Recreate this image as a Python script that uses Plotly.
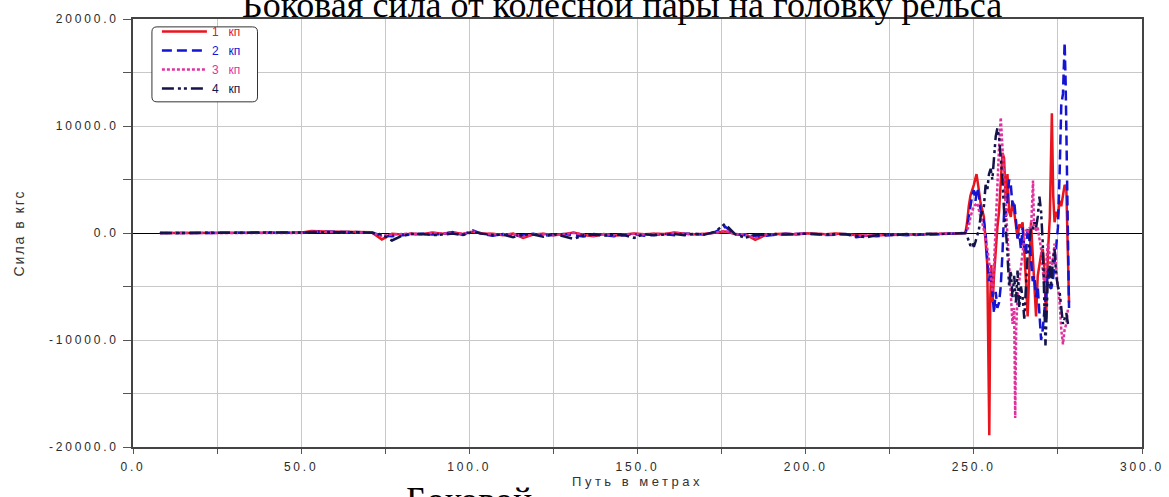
import plotly.graph_objects as go

# ---- data -------------------------------------------------------------
# quiet stretch of track: common sampling positions, m
QUIET_X = list(range(8, 246, 3))

# lateral force on the rail head, kgf (wheelsets 1..4), quiet stretch
Q1 = [0, 0, 0, 0, 0, 0, 0, 0, 0, 0, 0, 0, 0, 0, 20, 180, 120, 110, 120, 100,
      90, 60, -600, -80, -150, -60, -120, 40, -80, 60, -100, 120, -50, -80, -200, -60,
      -450, -150, -80, -200, -120, 50, -180, -300, -100, -250, -150, -50, -120, -60,
      -100, 50, -80, -120, -60, 40, 150, -100, -120, -650, -200, -100, -60, -150, -30,
      -80, -120, -50, -100, -220, -260, -200, -180, -200, -150, -180, -120, -80, -60, -40]
Q2 = [0, 0, 0, 0, 0, 0, 0, 0, 0, 0, 0, 0, 0, 0, 30, 100, 130, 120, 100, 110,
      80, 50, -250, -300, -200, -120, -60, -150, -100, 80, -180, 250, -120, -250, -100,
      -300, -200, -80, -250, -150, -100, -200, -320, -100, -200, -300, -200, -100, -250,
      -150, -80, -200, -60, -100, -150, 80, 600, -120, -200, -300, -250, -150, -80, -100,
      -60, -120, -180, -150, -100, -400, -250, -300, -250, -150, -200, -150, -100, -120, -80, -50]
Q3 = [0, 0, 0, 0, 0, 0, 0, 0, 0, 0, 0, 0, 0, 0, 10, 120, 100, 90, 100, 80,
      70, 40, -300, -150, -100, -50, -150, 20, -60, 40, -80, 150, -60, -100, -150, -80,
      -350, -120, -100, -180, -150, 30, -150, -250, -120, -200, -180, -60, -150, -80,
      -120, 20, -100, -150, -80, 20, 200, -80, -150, -500, -150, -120, -80, -120, -50,
      -100, -100, -80, -120, -250, -220, -180, -200, -180, -120, -150, -100, -60, -40, -20]
Q4 = [0, 0, 0, 0, 0, 0, 0, 0, 0, 0, 0, 0, 0, 0, 0, 60, 80, 100, 90, 80,
      60, 30, -150, -700, -250, -80, -100, -200, -150, -50, -200, 100, -80, -200, -150,
      -400, -150, -150, -350, -100, -300, -550, -200, -150, -250, -150, -200, -450, -100,
      -200, -150, -100, -200, -80, -150, 100, 850, -100, -450, -150, -200, -100, -150, -80,
      -60, -100, -150, -80, -120, -250, -400, -200, -150, -200, -100, -150, -80, -100, -60, -30]

# turnout zone: each wheelset sampled on its own positions
T1_X = [247.5, 248, 248.5, 249, 250, 250.8, 251.5, 252, 253, 253.5, 254, 254.6, 254.9,
        255.2, 255.6, 256, 256.5, 257, 257.5, 258, 258.5, 259, 259.5, 260, 260.5, 261,
        261.5, 262, 262.5, 263, 263.5, 264, 264.5, 265, 265.5, 266, 266.5, 267, 267.5,
        268, 268.5, 269, 270, 270.5, 271, 271.5, 272, 272.6, 273.2, 273.6, 274, 274.5,
        275, 275.5, 276, 276.5, 277, 277.5, 278, 278.3]
T1_Y = [0, 1000, 2500, 3500, 4500, 5500, 4000, 2800, 1500, -500, -3000, -18900, -6000,
        -3000, -6500, -4000, -1500, 500, 2000, 4500, 7500, 7000, 3000, 5500, 2000, 1500,
        3000, 2000, 500, -500, 800, 500, 1000, -1500, -4500, -7800, -3000, 1000, -2000,
        -5500, -7800, -4000, -2000, -1500, -3500, -8000, -2000, 1500, 11200, 3500, 1000,
        2000, 1500, 3000, 2500, 3500, 4500, 4200, -5000, -6500]

T2_X = [247.5, 248, 248.5, 249, 249.5, 250, 250.5, 251, 251.5, 252, 252.5, 253, 253.5,
        254, 254.5, 255, 255.5, 256, 256.5, 257, 257.5, 258, 258.5, 259, 259.5, 260,
        260.5, 261, 261.5, 262, 262.5, 263, 263.5, 264, 264.5, 265, 265.5, 266, 266.5,
        267, 267.5, 268, 268.5, 269, 269.5, 270, 270.5, 271, 271.5, 272, 272.5, 273,
        273.5, 274, 274.5, 275, 275.5, 276, 276.5, 277, 277.3, 277.6, 278, 278.3]
T2_Y = [0, 500, 1500, 2500, 3500, 4000, 3000, 4200, 3500, 2000, 1800, 1000, 0, -2500,
        -4500, -3500, -6000, -7500, -5500, -7000, -6500, -5000, -2000, 2000, 1500, 3500,
        5000, 4500, 2500, 3000, 1000, -500, 0, -1500, 500, -1500, -2000, 500, -500, -2500,
        -4500, -4000, -6000, -5000, -8000, -10000, -9000, -7000, -5000, -3500, -5000,
        -5200, -4500, -3000, -1000, 500, 5500, 12000, 13000, 17800, 14000, 7000, -2000, -7000]

T3_X = [247.5, 248, 248.5, 249, 250, 251, 251.5, 252, 252.5, 253, 253.5, 254, 254.5,
        255, 255.5, 256, 256.5, 257, 257.5, 258, 258.5, 259, 259.5, 260, 260.5, 261,
        261.5, 262, 262.3, 262.6, 263, 263.5, 264, 264.5, 265, 265.5, 266, 266.5, 267,
        267.6, 267.9, 268.5, 269, 269.5, 270, 270.5, 271, 271.5, 272, 272.5, 273, 273.5,
        274, 274.5, 275, 275.5, 276, 276.5, 277, 277.5, 278]
T3_Y = [0, 300, 600, 1500, 2500, 2800, 2000, 1500, 1000, 300, -500, -1500, -2500, -4000,
        -5500, -3000, 1000, 5000, 8000, 10800, 8000, 5200, 2500, 0, -3000, -6000, -8500,
        -7000, -17300, -8800, -6000, -4500, -3000, -1500, -500, 300, 0, 500, 300, 4900,
        500, 300, 500, -500, -1500, -3500, -5000, -3000, -1000, -2000, -4000, -2500,
        -1000, -3500, -5000, -6500, -9000, -10400, -9000, -8500, -7000]

T4_X = [247.5, 248, 248.5, 249, 249.5, 250, 250.5, 251, 251.5, 252, 252.5, 253, 253.5,
        254, 254.5, 255, 255.5, 256, 256.5, 257, 257.5, 258, 258.5, 259, 259.5, 260,
        260.5, 261, 261.5, 262, 262.5, 263, 263.5, 264, 264.5, 265, 265.5, 266, 266.5,
        267, 267.5, 268, 268.5, 269, 269.5, 270, 270.5, 271, 271.3, 271.7, 272, 272.5,
        273, 273.5, 274, 274.5, 275, 275.5, 276, 276.5, 277, 277.5, 278]
T4_Y = [0, -300, -800, -1200, -900, -1300, -800, -300, 300, 1500, 2000, 2500, 4500, 4000,
        5500, 6000, 5000, 7500, 9000, 9800, 9000, 7000, 5000, 2000, 500, -2000, -5000,
        -3500, -6000, -4000, -6500, -3500, -7000, -5000, -6000, -8000, -5000, -2000, -1000,
        500, 300, 1000, 500, 1500, 3400, 2000, -1000, -6000, -10500, -7000, -4000, -3000,
        -5000, -2500, -1500, -4000, -5000, -5500, -7000, -8500, -8000, -7500, -8500]

SERIES_NAMES = ["1", "2", "3", "4"]
SERIES_COLORS = ["#e8141e", "#1414d2", "#e0329e", "#14144a"]
SERIES_DASH = ["solid", "10px,5px", "3px,2px", "12px,4px,3px,3px,3px,4px"]

X_TICKS = [0, 50, 100, 150, 200, 250, 300]
X_LABELS = ["0.0", "50.0", "100.0", "150.0", "200.0", "250.0", "300.0"]
Y_TICKS = [-20000, -10000, 0, 10000, 20000]
Y_LABELS = ["-20000.0", "-10000.0", "0.0", "10000.0", "20000.0"]

TITLE = "Боковая сила от колесной пары на головку рельса"
X_TITLE = "Путь в метрах"
Y_TITLE = "Сила в кгс"
CAPTION = "Боковой"

# ---- figure -------------------------------------------------------------
fig = go.Figure()
tails = [(T1_X, T1_Y), (T2_X, T2_Y), (T3_X, T3_Y), (T4_X, T4_Y)]
quiet = [Q1, Q2, Q3, Q4]
for name, color, dash, q, (tx, ty) in zip(SERIES_NAMES, SERIES_COLORS, SERIES_DASH, quiet, tails):
    fig.add_trace(go.Scatter(
        x=QUIET_X + tx, y=q + ty, mode="lines",
        name=f'<span style="color:{color}">{name}   кп</span>',
        line=dict(color=color, width=2.5, dash=dash),
    ))

L, R, T, B = 133, 23, 13, 50
W, H = 1169, 497
pw, ph = W - L - R, H - T - B

axis_font = dict(family="Liberation Sans, Arial, sans-serif", size=12, color="#2a2a2a")
fig.update_xaxes(
    range=[0, 300], tickvals=X_TICKS, ticktext=X_LABELS,
    ticks="outside", ticklen=5, tickcolor="#555", tickfont=axis_font,
    showgrid=True, gridcolor="#c8c8c8", gridwidth=1,
    minor=dict(dtick=25, tick0=0, ticks="outside", ticklen=5, tickcolor="#555",
               showgrid=True, gridcolor="#c8c8c8", gridwidth=1),
    showline=True, linecolor="#444", linewidth=1.5, mirror=True,
    zeroline=False, ticklabelstandoff=3,
    title=dict(text=X_TITLE, font=dict(family="Liberation Sans, Arial, sans-serif", size=13, color="#333"),
               standoff=2),
)
fig.update_yaxes(
    range=[-20000, 20000], tickvals=Y_TICKS, ticktext=Y_LABELS,
    ticks="outside", ticklen=8, tickcolor="#555", tickfont=axis_font,
    showgrid=True, gridcolor="#c8c8c8", gridwidth=1,
    minor=dict(dtick=5000, tick0=0, ticks="outside", ticklen=8, tickcolor="#555",
               showgrid=True, gridcolor="#c8c8c8", gridwidth=1),
    showline=True, linecolor="#444", linewidth=1.5, mirror=True,
    zeroline=True, zerolinecolor="#000", zerolinewidth=1.2, ticklabelstandoff=2,
    title=dict(text=Y_TITLE, font=dict(family="Liberation Sans, Arial, sans-serif", size=14, color="#333"),
               standoff=44),
)

# rounded legend frame
x0, x1 = (152 - L) / pw, (258 - L) / pw
y0, y1 = (H - B - 97) / ph, (H - B - 21) / ph
rx, ry = 5 / pw, 5 / ph
frame = (f"M {x0+rx},{y1} L {x1-rx},{y1} Q {x1},{y1} {x1},{y1-ry} "
         f"L {x1},{y0+ry} Q {x1},{y0} {x1-rx},{y0} L {x0+rx},{y0} "
         f"Q {x0},{y0} {x0},{y0+ry} L {x0},{y1-ry} Q {x0},{y1} {x0+rx},{y1} Z")
fig.add_shape(type="path", path=frame, xref="paper", yref="paper",
              fillcolor="white", line=dict(color="#333", width=1), layer="above")

fig.add_annotation(text=TITLE, xref="paper", yref="paper", x=(623.5 - L) / pw, y=(H - B - 21) / ph,
                   xanchor="center", yanchor="bottom", showarrow=False,
                   font=dict(family="Liberation Serif, Times New Roman, serif", size=36, color="#000"))
fig.add_annotation(text=CAPTION, xref="paper", yref="paper", x=(405 - L) / pw, y=(H - B - 478) / ph,
                   xanchor="left", yanchor="top", showarrow=False,
                   font=dict(family="Liberation Serif, Times New Roman, serif", size=36, color="#000"))

fig.update_layout(
    width=W, height=H,
    margin=dict(l=L, r=R, t=T, b=B),
    paper_bgcolor="white", plot_bgcolor="white",
    showlegend=True,
    legend=dict(x=(157 - L) / pw, y=(H - B - 11) / ph, xanchor="left", yanchor="top",
                bgcolor="rgba(0,0,0,0)", borderwidth=0, itemwidth=45,
                font=dict(family="Liberation Sans, Arial, sans-serif", size=12),
                tracegroupgap=0),
)

style_js = (
    "var s=document.createElement('style');"
    "s.textContent='.xtick text,.ytick text{letter-spacing:2.8px}"
    ".g-xtitle text{letter-spacing:3.5px}.g-ytitle text{letter-spacing:2px}';"
    "document.head.appendChild(s);"
)
fig.write_html("out.html", post_script=style_js)
